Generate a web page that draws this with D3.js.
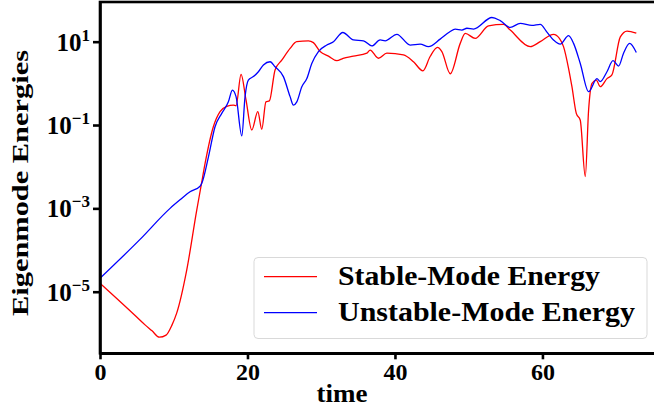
<!DOCTYPE html>
<meta charset="utf-8">
<style>
    body {
        margin: 0;
        background: #fff;
    }

    svg {
        display: block;
        font-family: "Liberation Serif", "DejaVu Serif", serif;
        font-weight: bold;
    }

    .axis path,
    .axis line {
        stroke: #000;
        stroke-width: 2.6px;
    }

    .axis text {
        fill: #000;
        font-family: "Liberation Serif", serif;
        font-weight: bold;
    }
</style>

<body>
    <script src="https://d3js.org/d3.v7.min.js"></script>
    <script>
        // Stable-mode energy (red)
        var stableTime = [0, 4.07, 6.11, 7.06, 8.05, 8.96, 9.77, 10.41, 11.76, 13.12, 13.7, 14.25, 15.37, 16.28,
            17.19, 18.09, 18.45, 19.13, 19.8, 20.58, 21.4, 21.94, 22.5, 22.97, 23.74, 24.65, 25.78, 26.68,
            28.26, 28.94, 29.85, 30.98, 32.12, 32.97, 34.36, 36.19, 36.63, 37.76, 38.9, 41.15, 42.51, 43.79,
            44.77, 45.77, 46.36, 47.5, 48.85, 49.53, 50.88, 52.69, 54.72, 55.63, 58.34, 59.7, 61.5, 62.3,
            62.86, 63.54, 64.0, 64.59, 65.13, 65.81, 66.26, 66.72, 67.3, 67.84, 68.75, 69.42, 70.56, 71.47, 72.73
        ];
        var stableEnergy = [1.6e-5, 3.5e-6, 1.6e-6, 1.15e-6, 8.1e-7, 9.1e-7, 1.6e-6, 3.1e-6, 3.3e-5, 9.1e-4, 3.4e-3,
            1.2e-2, 9.1e-2, 0.21, 0.28, 0.30, 0.29, 1.65, 0.40, 0.076, 0.21, 0.079, 0.36, 0.38, 2.1, 3.6, 6.9, 10,
            10.5, 9.5, 5.8, 4.5, 3.5, 4.0, 4.5, 5.3, 6.3, 4.0, 5.3, 4.8, 3.3, 2.0,
            4.4, 7.3, 5.8, 1.7, 9.1, 15.8, 12, 24, 26, 19, 7.6, 10, 15, 12,
            7.6, 2.3, 0.83, 0.19, 0.13, 5.8e-3, 0.23, 1.0, 1.2, 0.83, 1.3, 1.6, 13, 18, 16
        ];

        // Unstable-mode energy (blue)
        var unstableTime = [0, 5.43, 9.5, 10.85, 12.21, 13.57, 13.8, 14.7, 15.6, 16.51, 17.41, 17.95, 18.45, 19.23,
            19.67, 20.12, 20.8, 21.48, 22.16, 23.07, 23.74, 24.87, 25.78, 26.23, 26.69, 27.37, 28.05, 28.72,
            29.62, 30.76, 31.66, 32.93, 34.37, 35.73, 36.86, 37.99, 38.67, 40.26, 42.06, 43.42, 44.54, 46.13,
            47.4, 48.17, 49.08, 49.76, 50.65, 53.15, 54.27, 55.63, 56.99, 58.58, 59.7, 60.61, 61.5, 62.41,
            63.54, 64.22, 65.13, 66.26, 67.39, 67.84, 68.75, 69.57, 70.33, 71.0, 71.82, 72.73
        ];
        var unstableEnergy = [2.1e-5, 1.8e-4, 1.0e-3, 1.6e-3, 2.5e-3, 3.4e-3, 4.0e-3, 0.017, 0.091, 0.19, 0.36, 0.69, 0.48, 0.055,
            0.48, 1.2, 1.45, 1.9, 2.75, 3.3, 2.5, 1.45, 0.48, 0.30, 0.36, 0.83, 1.3, 3.0,
            5.8, 8.3, 10, 16.6, 11, 10.5, 7.9, 11, 10.5, 15, 8.3, 8.7, 7.6, 11.5,
            17, 20, 19, 21, 20, 38, 32, 22, 27.5, 24.5, 26, 17, 11, 8.7,
            13.9, 9.1, 3.0, 0.63, 1.3, 1.1, 1.9, 3.5, 2.6, 5.3, 9.1, 5.5
        ];

        var xTicks = [0, 20, 40, 60];
        var yTickExponents = [-5, -3, -1, 1];
        var seriesNames = ["Stable-Mode Energy", "Unstable-Mode Energy"];
        var seriesColors = ["#ff0000", "#0000ff"];

        var width = 654,
            height = 411;
        var plot = {
            left: 100,
            top: 2,
            bottom: 353.3
        };

        var x = d3.scaleLinear()
            .domain([0, 75.4])
            .range([plot.left, 656]);
        var y = d3.scaleLog()
            .domain([Math.pow(10, -6.478), Math.pow(10, 1.952)])
            .range([plot.bottom, plot.top]);

        var svg = d3.select("body").append("svg")
            .attr("width", width)
            .attr("height", height);

        var series = [
            d3.zip(stableTime, stableEnergy),
            d3.zip(unstableTime, unstableEnergy)
        ];

        var line = d3.line()
            .x(function(d) { return x(d[0]); })
            .y(function(d) { return y(d[1]); })
            .curve(d3.curveMonotoneX);

        svg.selectAll(".series")
            .data(series)
            .enter().append("path")
            .attr("class", "series")
            .attr("d", line)
            .attr("fill", "none")
            .attr("stroke", function(d, i) { return seriesColors[i]; })
            .attr("stroke-width", 1.3);

        // frame (top / right spines)
        svg.append("rect")
            .attr("x", x.range()[0])
            .attr("y", plot.top)
            .attr("width", x.range()[1] - x.range()[0])
            .attr("height", plot.bottom - plot.top)
            .attr("fill", "none")
            .attr("stroke", "#000")
            .attr("stroke-width", 2.6);

        var xAxis = d3.axisBottom(x)
            .tickValues(xTicks)
            .tickSize(6)
            .tickSizeOuter(0)
            .tickPadding(4)
            .tickFormat(d3.format("d"));

        svg.append("g")
            .attr("class", "x axis")
            .attr("transform", "translate(0," + plot.bottom + ")")
            .call(xAxis)
            .selectAll("text")
            .style("font-size", "24px");

        var yAxis = d3.axisLeft(y)
            .tickValues(yTickExponents.map(function(e) { return Math.pow(10, e); }))
            .tickSize(7)
            .tickSizeOuter(0)
            .tickFormat("");

        var gy = svg.append("g")
            .attr("class", "y axis")
            .attr("transform", "translate(" + plot.left + ",0)")
            .call(yAxis);

        gy.selectAll(".tick text").remove();
        gy.selectAll(".tick").each(function(d) {
            var e = Math.round(Math.log10(d));
            var t = d3.select(this).append("text")
                .attr("x", -10)
                .attr("y", 8.5)
                .attr("text-anchor", "end")
                .style("font-size", "25px");
            t.append("tspan").text("10");
            t.append("tspan")
                .attr("dy", -10)
                .style("font-size", "17px")
                .text(e < 0 ? "\u2212" + (-e) : String(e));
        });

        // axis labels
        svg.append("text")
            .attr("x", 342)
            .attr("y", 402)
            .attr("text-anchor", "middle")
            .attr("textLength", 51)
            .attr("lengthAdjust", "spacingAndGlyphs")
            .style("font-size", "25px")
            .text("time");

        svg.append("text")
            .attr("transform", "translate(28,183) rotate(-90)")
            .attr("text-anchor", "middle")
            .attr("textLength", 266)
            .attr("lengthAdjust", "spacingAndGlyphs")
            .style("font-size", "23px")
            .text("Eigenmode Energies");

        // legend
        var legend = svg.append("g").attr("class", "legend");
        legend.append("rect")
            .attr("x", 254)
            .attr("y", 257.5)
            .attr("width", 393)
            .attr("height", 81)
            .attr("rx", 4)
            .attr("fill", "#fff")
            .attr("fill-opacity", 0.8)
            .attr("stroke", "#d9d9d9")
            .attr("stroke-width", 1);

        var legendLengths = [262, 297];
        var items = legend.selectAll(".item")
            .data(seriesNames)
            .enter().append("g")
            .attr("class", "item")
            .attr("transform", function(d, i) { return "translate(0," + (276.7 + i * 36) + ")"; });

        items.append("line")
            .attr("x1", 264)
            .attr("x2", 317)
            .attr("stroke", function(d, i) { return seriesColors[i]; })
            .attr("stroke-width", 1.3);

        items.append("text")
            .attr("x", 338)
            .attr("y", 8.5)
            .attr("textLength", function(d, i) { return legendLengths[i]; })
            .attr("lengthAdjust", "spacingAndGlyphs")
            .style("font-size", "28px")
            .text(function(d) { return d; });
    </script>
</body>
